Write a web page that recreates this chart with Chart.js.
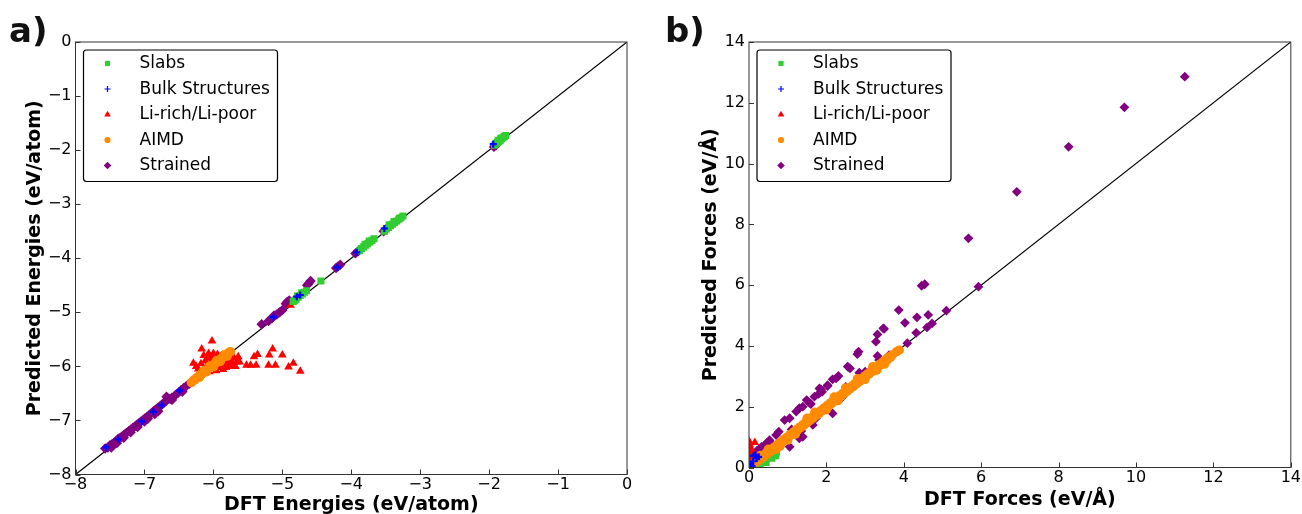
<!DOCTYPE html>
<html><head><meta charset="utf-8">
<script src="https://cdn.jsdelivr.net/npm/chart.js@4.4.0/dist/chart.umd.min.js"></script>
<style>
html,body{margin:0;padding:0;background:#fff;}
body{width:1302px;height:514px;position:relative;overflow:hidden;}
#ca{position:absolute;left:0;top:0;}
#cb{position:absolute;left:651px;top:0;}
</style></head><body>
<canvas id="ca" width="651" height="514"></canvas>
<canvas id="cb" width="651" height="514"></canvas>
<script>
// ---------- DATA ----------
const seriesNames = ['Slabs','Bulk Structures','Li-rich/Li-poor','AIMD','Strained'];
const ticksA = [-8,-7,-6,-5,-4,-3,-2,-1,0];
const ticksB = [0,2,4,6,8,10,12,14];
const diagA = [[-8,-8],[0,0]];
const diagB = [[0,0],[14,14]];

// Panel a: DFT energy vs predicted energy (eV/atom)
const slabsE = [[-1.92,-1.91],[-1.9,-1.88],[-1.88,-1.86],[-1.86,-1.84],[-1.84,-1.82],[-1.82,-1.79],[-1.8,-1.77],[-1.78,-1.75],[-1.76,-1.73],[-1.87,-1.82],[-1.83,-1.78],
 [-3.52,-3.5],[-3.49,-3.46],[-3.46,-3.43],[-3.43,-3.4],[-3.4,-3.37],[-3.37,-3.34],[-3.34,-3.31],[-3.31,-3.28],[-3.28,-3.25],[-3.25,-3.22],[-3.45,-3.38],[-3.38,-3.32],[-3.3,-3.26],
 [-3.88,-3.86],[-3.85,-3.82],[-3.82,-3.79],[-3.79,-3.76],[-3.76,-3.73],[-3.73,-3.7],[-3.7,-3.67],[-3.67,-3.64],[-3.8,-3.74],[-3.74,-3.68],
 [-4.84,-4.8],[-4.8,-4.76],[-4.77,-4.72],[-4.74,-4.69],[-4.71,-4.66],[-4.68,-4.63],[-4.65,-4.6],[-4.78,-4.7],[-4.72,-4.64],[-4.82,-4.78],
 [-4.44,-4.42]];
const bulkE = [[-7.56,-7.5],[-7.38,-7.35],[-7.04,-7.02],[-6.87,-6.84],[-6.75,-6.72],[-6.49,-6.45],[-5.13,-5.09],[-4.79,-4.71],[-4.74,-4.68],[-4.2,-4.17],[-3.92,-3.89],[-3.52,-3.45],[-1.94,-1.89]];
const liE = [[-6.02,-5.53],[-6.17,-5.68],[-6.07,-5.76],[-6.0,-5.76],[-6.29,-5.94],[-5.64,-5.82],[-5.62,-5.92],[-5.52,-5.98],[-5.46,-5.98],[-5.41,-5.82],[-5.36,-5.78],[-5.38,-5.98],[-5.2,-5.98],[-5.19,-5.79],[-5.14,-5.68],[-5.1,-5.98],[-5.0,-5.79],[-4.91,-6.01],[-4.84,-5.94],[-4.74,-6.09],[-4.88,-4.87],
 [-6.22,-6.05],[-6.18,-5.95],[-6.15,-6.08],[-6.12,-5.9],[-6.1,-6.0],[-6.08,-5.85],[-6.05,-5.95],[-6.02,-6.02],[-6.0,-5.88],[-5.98,-5.98],[-5.95,-5.85],[-5.92,-5.95],[-5.9,-6.02],[-5.88,-5.88],[-5.85,-5.95],[-5.82,-6.02],[-5.8,-5.9],[-5.78,-5.98],[-5.75,-5.88],[-5.72,-5.95],[-5.7,-5.85],[-5.68,-6.0],[-6.2,-6.15],[-6.14,-5.8],[-5.96,-6.08],[-5.86,-6.06],[-5.76,-5.78],[-5.66,-5.92],[-6.06,-6.1],[-5.94,-5.78],
 [-6.25,-6.0],[-6.12,-6.12],[-6.04,-5.82],[-5.92,-5.82],[-5.84,-5.84],[-5.74,-6.0]];
const aimdE = [[-6.32,-6.3],[-6.29,-6.26],[-6.27,-6.25],[-6.25,-6.22],[-6.23,-6.2],[-6.21,-6.18],[-6.19,-6.16],[-6.17,-6.14],[-6.15,-6.12],[-6.13,-6.1],[-6.11,-6.08],[-6.09,-6.06],[-6.07,-6.04],[-6.05,-6.02],[-6.03,-6.0],[-6.01,-5.98],[-5.99,-5.96],[-5.97,-5.94],[-5.95,-5.92],[-5.93,-5.9],[-5.91,-5.88],[-5.89,-5.86],[-5.87,-5.84],[-5.85,-5.82],[-5.83,-5.8],[-5.81,-5.78],[-5.79,-5.76],[-5.77,-5.74],[-5.75,-5.73],[-6.2,-6.2],[-6.1,-6.1],[-6.0,-6.01],[-5.9,-5.91],[-5.8,-5.81],[-6.15,-6.09],[-6.05,-5.99],[-5.95,-5.89],[-5.85,-5.79]];
const strainedE = [[-7.57,-7.52],[-7.53,-7.5],[-7.5,-7.46],[-7.47,-7.44],[-7.44,-7.41],[-7.41,-7.38],[-7.38,-7.34],[-7.35,-7.32],[-7.32,-7.29],[-7.29,-7.26],[-7.26,-7.23],[-7.23,-7.2],[-7.2,-7.17],[-7.17,-7.14],[-7.14,-7.11],[-7.11,-7.08],[-7.08,-7.05],[-7.05,-7.02],[-7.02,-6.99],[-6.99,-6.96],[-6.96,-6.93],[-6.93,-6.9],[-6.9,-6.87],[-6.87,-6.83],[-6.84,-6.8],[-6.81,-6.77],[-6.78,-6.74],[-6.75,-6.71],[-6.72,-6.68],[-6.69,-6.64],[-6.66,-6.6],[-6.63,-6.6],[-6.6,-6.58],[-6.55,-6.53],[-6.51,-6.49],[-6.47,-6.44],[-6.43,-6.4],[-6.39,-6.36],[-6.35,-6.32],[-6.31,-6.29],[-7.48,-7.5],[-7.3,-7.32],[-7.1,-7.12],[-6.95,-6.97],[-6.8,-6.83],[-6.68,-6.56],
 [-7.4,-7.42],[-7.2,-7.22],[-7.0,-7.02],[-6.85,-6.88],[-6.6,-6.62],[-6.45,-6.47],
 [-5.3,-5.22],[-5.2,-5.16],[-5.15,-5.11],[-5.12,-5.06],[-5.08,-5.04],[-5.04,-5.0],[-5.0,-4.96],[-4.95,-4.84],[-4.93,-4.81],[-4.9,-4.78],[-4.64,-4.5],[-4.59,-4.42],[-4.62,-4.47],
 [-4.22,-4.18],[-4.19,-4.15],[-4.16,-4.12],[-3.94,-3.91],[-3.9,-3.87],[-3.53,-3.5],[-3.5,-3.47],[-1.93,-1.94],[-1.9,-1.91]];

// Panel b: DFT force vs predicted force (eV/Å)
const slabsF = [[0.02,0.01],[0.05,0.03],[0.08,0.05],[0.1,0.06],[0.13,0.08],[0.16,0.1],[0.2,0.12],[0.24,0.15],[0.28,0.18],[0.32,0.2],[0.36,0.22],[0.4,0.26],[0.44,0.29],[0.48,0.31],[0.52,0.35],[0.56,0.38],[0.6,0.41],[0.64,0.44],[0.68,0.47],[0.72,0.5],[0.3,0.1],[0.45,0.16],[0.6,0.3],[0.7,0.38]];
const bulkF = [[0.05,0.1],[0.12,0.38],[0.16,0.42],[0.2,0.3],[0.1,0.2],[0.25,0.35],[0.08,0.05]];
const liF = [[0.01,0.85],[0.02,0.75],[0.01,0.65],[0.03,0.55],[0.02,0.45],[0.04,0.35],[0.02,0.25],[0.05,0.15],[0.01,0.05],[0.15,0.82],[0.06,0.6],[0.08,0.3]];
const aimdF = [[0.02,0.03],[0.06,0.05],[0.1,0.12],[0.14,0.12],[0.18,0.2],[0.22,0.2],[0.26,0.28],[0.3,0.27],[0.34,0.36],[0.38,0.35],[0.42,0.44],[0.46,0.43],[0.5,0.52],[0.54,0.51],[0.58,0.6],[0.62,0.6],[0.66,0.68],[0.7,0.68],[0.74,0.76],[0.78,0.76],[0.82,0.84],[0.86,0.84],[0.9,0.92],[0.94,0.92],[0.98,1.0],[1.02,1.0],[1.06,1.08],[1.1,1.08],[1.14,1.16],[1.18,1.15],[1.22,1.24],[1.26,1.24],[1.3,1.32],[1.34,1.31],[1.38,1.4],[1.42,1.39],[1.46,1.48],[1.5,1.47],[1.54,1.56],[1.58,1.55],[1.62,1.64],[1.66,1.63],[1.7,1.72],[1.74,1.71],[1.78,1.8],[1.82,1.79],[1.86,1.88],[1.9,1.87],[1.94,1.96],[1.98,1.95],[2.02,2.04],[2.06,2.03],[2.1,2.12],[2.14,2.11],[2.18,2.2],[2.22,2.19],[2.26,2.28],[2.3,2.27],[2.34,2.36],[2.38,2.35],[2.42,2.44],[2.46,2.43],[2.5,2.52],[2.54,2.51],[2.58,2.6],[2.62,2.59],[2.66,2.68],[2.7,2.67],[2.74,2.76],[2.78,2.75],[2.82,2.84],[2.86,2.83],[2.9,2.92],[2.94,2.91],[2.98,3.0],[3.02,2.99],[3.06,3.08],[3.1,3.07],[3.14,3.16],[3.18,3.15],[3.22,3.24],[3.26,3.23],[3.3,3.32],[3.34,3.31],[3.38,3.4],[3.42,3.39],[3.46,3.48],[3.5,3.47],[3.54,3.56],[3.58,3.55],[3.62,3.64],[3.66,3.63],[3.7,3.7],[3.8,3.8],[3.88,3.86],
 [0.5,0.6],[1.0,0.9],[1.5,1.62],[2.0,1.9],[2.5,2.62],[3.0,2.9],[1.2,1.1],[2.2,2.32],[0.8,0.7],[2.8,2.92],[3.3,3.2],[0.3,0.4],[0.7,0.6],[1.7,1.82],[2.3,2.2],[3.2,3.32],[3.5,3.4]];
const strainedF = [[11.26,12.86],[9.70,11.85],[8.26,10.55],[6.92,9.07],[5.67,7.54],[5.93,5.95],[4.46,5.98],[4.54,6.03],[5.10,5.16],[3.87,5.18],[4.03,4.76],[4.34,4.94],[4.63,5.02],[4.73,4.74],[4.60,4.61],[4.32,4.43],[4.09,4.09],[3.47,4.58],[3.49,4.56],[3.32,4.38],[3.28,4.14],[3.32,3.67],[3.62,3.70],[2.83,3.81],[2.80,3.73],[2.55,3.32],[2.61,3.26],[2.85,3.12],[2.25,2.93],[2.31,3.01],[2.16,2.90],[2.03,2.71],[2.03,2.68],[1.82,2.60],[1.86,2.57],[1.89,2.49],[1.69,2.33],[1.80,2.42],[1.56,2.13],[1.49,2.22],[1.60,2.09],[1.39,2.0],[1.22,1.84],[1.30,1.95],[0.92,1.56],[1.05,1.62],[0.77,1.18],[0.70,1.07],[0.45,0.80],[0.53,0.90],[0.32,0.68],[0.10,0.41],[0.2,0.55],[2.16,1.78],[1.73,1.62],[1.65,1.40],[1.39,1.01],[1.30,0.96],[1.05,0.68],[3.15,3.21],[3.36,3.54],[2.5,2.65],[3.0,3.15],[1.1,1.25],[0.6,0.75],[1.35,1.2],[2.4,2.3]];

// ---------- STYLE ----------
const COLORS = {slabs:'#32cd32', bulk:'#0000ff', li:'#ff0000', aimd:'#ff8c00', strained:'#800080'};
const FONT = '"DejaVu Sans", "Liberation Sans", sans-serif';
const toXY = arr => arr.map(p => ({x:p[0], y:p[1]}));
const fmt = v => String(v).replace('-', '\u2212');

function markerSet(s, big) {
  return [
    {label:seriesNames[0], data:toXY(s[0]), pointStyle:'rect', radius:big?4.6:5, backgroundColor:COLORS.slabs, borderColor:COLORS.slabs, borderWidth:0, order:3},
    {label:seriesNames[1], data:toXY(s[1]), pointStyle:'cross', radius:3.5, backgroundColor:COLORS.bulk, borderColor:COLORS.bulk, borderWidth:2.2, order:1},
    {label:seriesNames[2], data:toXY(s[2]), pointStyle:'triangle', radius:5, backgroundColor:COLORS.li, borderColor:COLORS.li, borderWidth:0, order:4},
    {label:seriesNames[3], data:toXY(s[3]), pointStyle:'circle', radius:big?4.7:4.7, backgroundColor:COLORS.aimd, borderColor:COLORS.aimd, borderWidth:0, order:2},
    {label:seriesNames[4], data:toXY(s[4]), pointStyle:'rectRot', radius:big?4.9:5.2, backgroundColor:COLORS.strained, borderColor:COLORS.strained, borderWidth:0, order:5}
  ];
}

function drawLegendMarker(ctx, i, x, y) {
  const c = [COLORS.slabs, COLORS.bulk, COLORS.li, COLORS.aimd, COLORS.strained][i];
  ctx.fillStyle = c; ctx.strokeStyle = c;
  ctx.beginPath();
  if (i === 0) { ctx.rect(x-2.6, y-2.6, 5.2, 5.2); ctx.fill(); }
  else if (i === 1) { ctx.lineWidth = 1.2; ctx.moveTo(x-3, y); ctx.lineTo(x+3, y); ctx.moveTo(x, y-3); ctx.lineTo(x, y+3); ctx.stroke(); }
  else if (i === 2) { const r = 3.8; ctx.moveTo(x, y-r); ctx.lineTo(x+r*0.866, y+r*0.5); ctx.lineTo(x-r*0.866, y+r*0.5); ctx.closePath(); ctx.fill(); }
  else if (i === 3) { ctx.arc(x, y, 3.1, 0, Math.PI*2); ctx.fill(); }
  else { const r = 3.8; ctx.moveTo(x, y-r); ctx.lineTo(x+r, y); ctx.lineTo(x, y+r); ctx.lineTo(x-r, y); ctx.closePath(); ctx.fill(); }
}

const decor = {
  id: 'decor',
  afterDatasetsDraw(chart, args, opts) {
    const {ctx, chartArea: a, scales: {x, y}} = chart;
    ctx.save();
    ctx.strokeStyle = '#333'; ctx.lineWidth = 1;
    ctx.strokeRect(a.left, a.top, a.right - a.left, a.bottom - a.top);
    ctx.beginPath();
    x.ticks.forEach(t => { const p = Math.round(x.getPixelForValue(t.value)) + 0.5; ctx.moveTo(p, a.bottom); ctx.lineTo(p, a.bottom - 5); });
    y.ticks.forEach(t => { const p = Math.round(y.getPixelForValue(t.value)) + 0.5; ctx.moveTo(a.left, p); ctx.lineTo(a.left + 5, p); });
    ctx.stroke();
    const lx = a.left + 8, ly = a.top + 8, lw = 194, lh = 131.5;
    ctx.beginPath();
    ctx.roundRect(lx, ly, lw, lh, 3);
    ctx.fillStyle = '#fff'; ctx.fill();
    ctx.strokeStyle = '#000'; ctx.lineWidth = 1.2; ctx.stroke();
    ctx.font = '17px ' + FONT; ctx.textBaseline = 'middle'; ctx.textAlign = 'left';
    seriesNames.forEach((n, i) => {
      const cy = ly + 13.5 + i * 25.5;
      drawLegendMarker(ctx, i, lx + 24, cy);
      ctx.fillStyle = '#000';
      ctx.fillText(n, lx + 56, cy + 0.5);
    });
    ctx.font = 'bold 34px ' + FONT; ctx.fillStyle = '#111'; ctx.textBaseline = 'alphabetic';
    ctx.fillText(opts.label, opts.lx, 42);
    ctx.restore();
  }
};

function makeChart(id, cfg) {
  const ds = markerSet(cfg.series, cfg.big);
  ds.push({label:'diag', data:toXY(cfg.diag), showLine:true, pointRadius:0, borderColor:'#000', borderWidth:1.2, order:6});
  return new Chart(document.getElementById(id), {
    type: 'scatter',
    data: {datasets: ds},
    options: {
      responsive: false, animation: false, devicePixelRatio: 1,
      layout: {padding: cfg.pad},
      plugins: {legend: {display:false}, tooltip: {enabled:false}, decor: {label: cfg.label, lx: cfg.lx}},
      elements: {point: {hoverRadius: 0}},
      scales: {
        x: {
          type:'linear', min: cfg.ticks[0], max: cfg.ticks[cfg.ticks.length-1],
          afterBuildTicks: s => { s.ticks = cfg.ticks.map(v => ({value:v})); },
          afterFit: s => { s.height = cfg.xh; },
          grid: {display:false, drawTicks:false, tickLength:0}, border: {display:false},
          ticks: {color:'#000', font:{family:FONT, size:16}, padding:1, callback: v => fmt(v), maxRotation:0, autoSkip:false},
          title: {display:true, text: cfg.xTitle, color:'#000', font:{family:FONT, size:19, weight:'bold'}, padding:{top:0, bottom:cfg.xtp}}
        },
        y: {
          type:'linear', min: cfg.ticks[0], max: cfg.ticks[cfg.ticks.length-1],
          afterBuildTicks: s => { s.ticks = cfg.ticks.map(v => ({value:v})); },
          afterFit: s => { s.width = cfg.yw; },
          grid: {display:false, drawTicks:false, tickLength:0}, border: {display:false},
          ticks: {color:'#000', font:{family:FONT, size:16}, padding:4, callback: v => fmt(v), autoSkip:false},
          title: {display:true, text: cfg.yTitle, color:'#000', font:{family:FONT, size:19, weight:'bold'}, padding:{top:cfg.ytp, bottom:0}}
        }
      }
    },
    plugins: [decor]
  });
}

makeChart('ca', {
  series:[slabsE, bulkE, liE, aimdE, strainedE], diag: diagA, ticks: ticksA, big:false,
  pad:{top:42, right:24, bottom:0, left:0}, xh:39.5, yw:75.5, ytp:24, xtp:-2,
  xTitle:'DFT Energies (eV/atom)', yTitle:'Predicted Energies (eV/atom)', label:'a)', lx:9
});
makeChart('cb', {
  series:[slabsF, bulkF, liF, aimdF, strainedF], diag: diagB, ticks: ticksB, big:true,
  pad:{top:42, right:9, bottom:3, left:0}, xh:43.5, yw:98, ytp:49, xtp:0,
  xTitle:'DFT Forces (eV/\u00C5)', yTitle:'Predicted Forces (eV/\u00C5)', label:'b)', lx:14
});
</script>
</body></html>
